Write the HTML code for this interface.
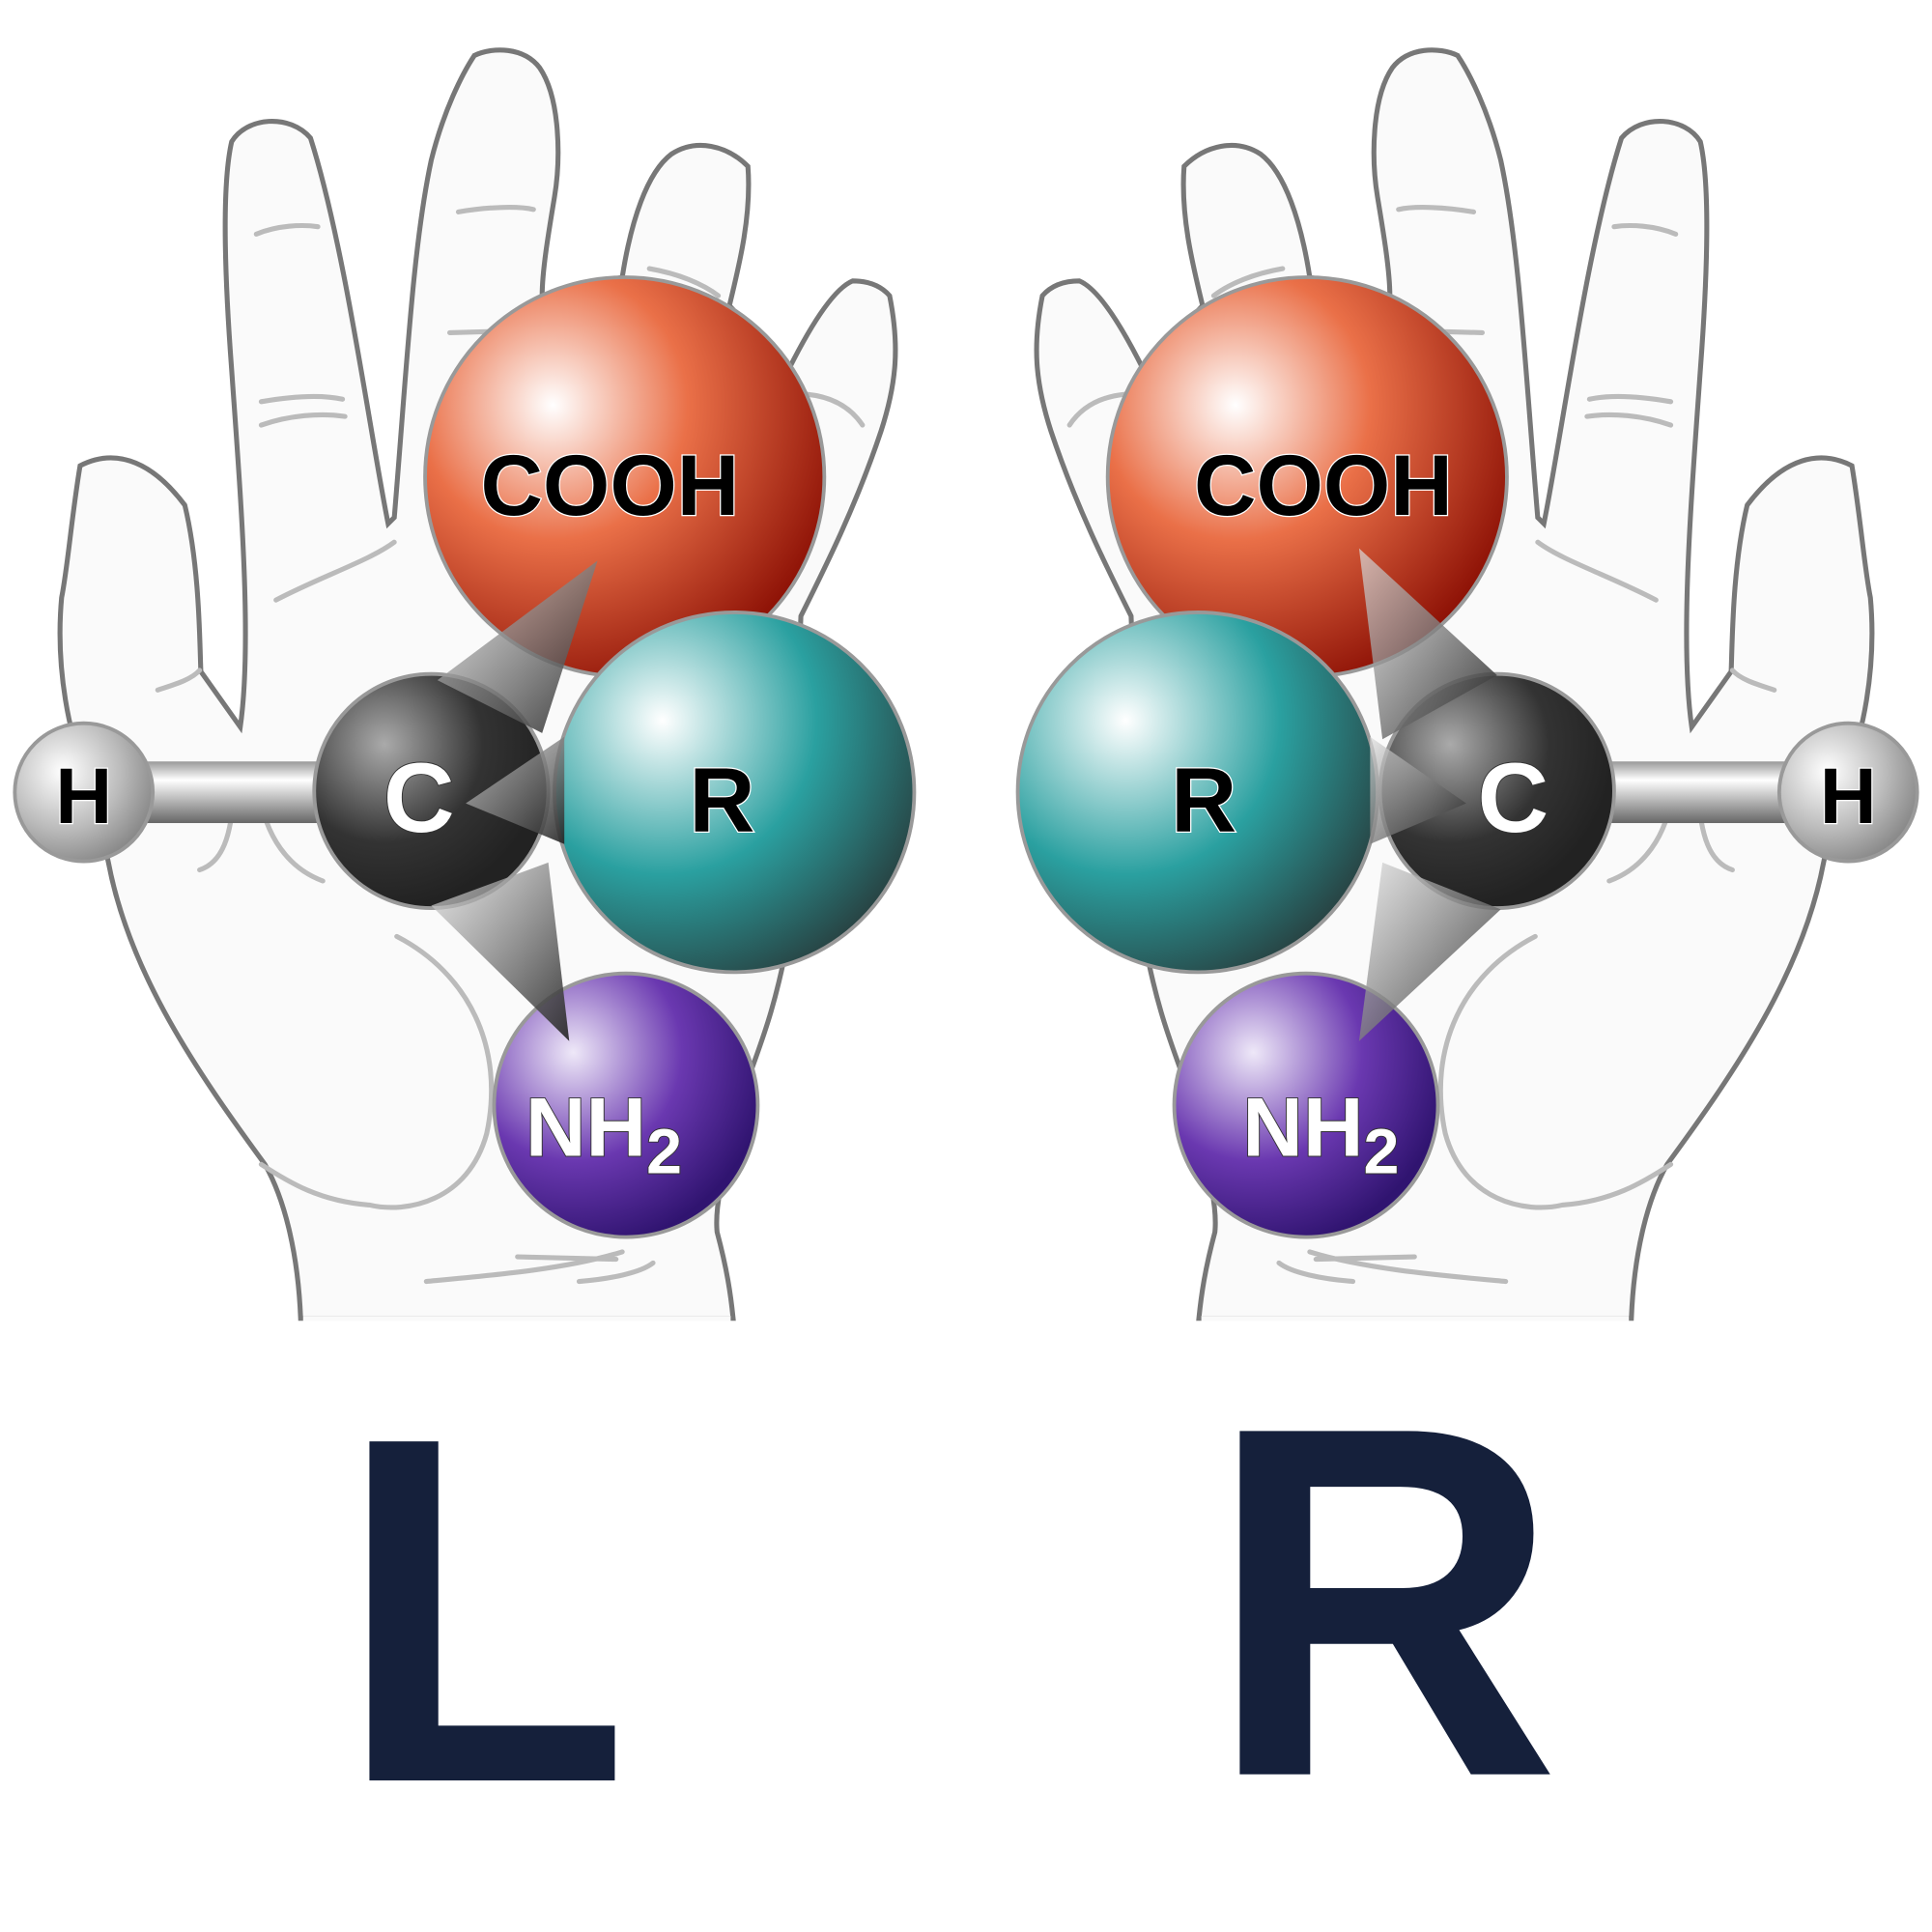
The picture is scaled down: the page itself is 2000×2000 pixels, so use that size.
<!DOCTYPE html>
<html><head><meta charset="utf-8"><style>html,body{margin:0;padding:0;background:#fff}svg{display:block}</style></head>
<body>
<svg width="2000" height="2000" viewBox="0 0 1568 1568" xmlns="http://www.w3.org/2000/svg">
<defs>
<radialGradient id="gO" cx="0.32" cy="0.32" r="0.75"><stop offset="0" stop-color="#fff"/><stop offset="0.45" stop-color="#ea7048"/><stop offset="1" stop-color="#8e1206"/></radialGradient>
<radialGradient id="gT" cx="0.3" cy="0.3" r="0.78"><stop offset="0" stop-color="#fff"/><stop offset="0.55" stop-color="#2aa0a0"/><stop offset="1" stop-color="#284444"/></radialGradient>
<radialGradient id="gP" cx="0.3" cy="0.3" r="0.75"><stop offset="0" stop-color="#eee8f8"/><stop offset="0.55" stop-color="#6a38b0"/><stop offset="1" stop-color="#301470"/></radialGradient>
<radialGradient id="gC" cx="0.3" cy="0.3" r="0.7"><stop offset="0" stop-color="#aaa"/><stop offset="0.6" stop-color="#333"/><stop offset="1" stop-color="#222"/></radialGradient>
<radialGradient id="gH" cx="0.35" cy="0.35" r="0.7"><stop offset="0" stop-color="#fff"/><stop offset="0.6" stop-color="#bbb"/><stop offset="1" stop-color="#888"/></radialGradient>
<linearGradient id="gB" x1="0" y1="0" x2="0" y2="1"><stop offset="0" stop-color="#999"/><stop offset="0.3" stop-color="#fff"/><stop offset="1" stop-color="#666"/></linearGradient>
<linearGradient id="gW" x1="0" y1="0" x2="1" y2="1"><stop offset="0" stop-color="#ddd" stop-opacity="0.7"/><stop offset="1" stop-color="#222" stop-opacity="0.9"/></linearGradient>
<g id="hand">
<path d="M244 1070 C242 1020 232 975 215 945 C160 870 105 790 88 700 L75 640 C55 600 45 540 50 485 C55 460 58 420 65 378 C90 365 120 370 150 410 C162 460 162 520 163 545 L195 590 C205 520 195 400 188 300 C182 220 180 150 188 115 C200 95 235 92 252 112 C280 200 300 350 315 425 L320 420 C330 300 335 200 350 130 C360 90 375 60 385 45 C400 38 425 38 438 55 C455 80 455 130 450 160 C445 190 440 220 440 240 L505 225 C512 180 525 140 545 125 C565 112 590 118 607 135 C610 175 600 215 592 248 L640 300 C655 270 675 235 692 228 C705 228 715 232 722 240 C730 280 728 310 715 350 C695 410 670 460 650 500 L640 760 C625 840 610 860 600 900 C585 960 580 980 582 1000 C590 1030 593 1050 595 1070 Z" fill="#fafafa" stroke="#777" stroke-width="4"/>
<rect x="246" y="1068" width="347" height="8" fill="#fafafa"/>
<rect x="230" y="1072" width="380" height="8" fill="#fff"/>
<g fill="none" stroke="#bbb" stroke-width="4" stroke-linecap="round">
<path d="M208 190 C225 183 245 182 258 184"/><path d="M372 172 C395 168 420 167 433 170"/>
<path d="M212 345 C235 337 260 335 280 338"/><path d="M212 326 C235 322 260 320 278 324"/>
<path d="M224 487 C260 468 300 455 320 440"/><path d="M365 270 L440 268"/><path d="M527 218 C550 222 570 230 583 240"/>
<path d="M655 320 C675 322 690 330 700 345"/><path d="M128 560 C140 556 155 552 162 544"/>
<path d="M162 706 C180 700 188 680 190 640"/><path d="M210 640 C215 680 235 705 262 715"/>
<path d="M322 760 C380 790 410 850 395 920 C380 975 330 985 300 978 C260 975 235 960 212 945"/>
<path d="M346 1040 C400 1035 460 1030 505 1016"/><path d="M470 1040 C495 1038 520 1033 530 1025"/><path d="M420 1020 L500 1022"/>
</g>
</g>
</defs>
<rect width="1568" height="1568" fill="#fff"/>
<use href="#hand"/>
<use href="#hand" transform="translate(1568 0) scale(-1 1)"/>

<rect x="68" y="618" width="240" height="50" fill="url(#gB)"/>
<circle cx="68" cy="643" r="56" fill="url(#gH)" stroke="#999" stroke-width="3"/>
<circle cx="507" cy="387" r="162" fill="url(#gO)" stroke="#999" stroke-width="3"/>
<circle cx="350" cy="642" r="95" fill="url(#gC)" stroke="#999" stroke-width="3"/>
<circle cx="596" cy="643" r="146" fill="url(#gT)" stroke="#999" stroke-width="3"/>
<circle cx="508" cy="897" r="107" fill="url(#gP)" stroke="#999" stroke-width="3"/>
<polygon points="485,455 355,552 440,595" fill="url(#gW)"/>
<polygon points="378,652 458,598 458,685" fill="url(#gW)"/>
<polygon points="462,845 350,735 445,700" fill="url(#gW)"/>

<rect x="1260" y="618" width="240" height="50" fill="url(#gB)"/>
<circle cx="1500" cy="643" r="56" fill="url(#gH)" stroke="#999" stroke-width="3"/>
<circle cx="1061" cy="387" r="162" fill="url(#gO)" stroke="#999" stroke-width="3"/>
<circle cx="972" cy="643" r="146" fill="url(#gT)" stroke="#999" stroke-width="3"/>
<circle cx="1215" cy="642" r="95" fill="url(#gC)" stroke="#999" stroke-width="3"/>
<circle cx="1060" cy="897" r="107" fill="url(#gP)" stroke="#999" stroke-width="3"/>
<polygon points="1103,445 1215,548 1122,600" fill="url(#gW)"/>
<polygon points="1190,652 1112,598 1112,685" fill="url(#gW)"/>
<polygon points="1103,845 1218,738 1122,700" fill="url(#gW)"/>

<g font-family="Liberation Sans, sans-serif" font-weight="bold" text-anchor="middle">
<g fill="#000" stroke="#fff" stroke-width="2" paint-order="stroke">
<text x="68" y="668" font-size="64">H</text>
<text x="1500" y="668" font-size="64">H</text>
<text x="495" y="418" font-size="70">COOH</text>
<text x="1074" y="418" font-size="70">COOH</text>
<text x="586" y="675" font-size="74">R</text>
<text x="977" y="675" font-size="74">R</text>
</g>
<g fill="#fff" stroke="#333" stroke-width="1.5" paint-order="stroke">
<text x="340" y="675" font-size="80">C</text>
<text x="1228" y="675" font-size="80">C</text>
<text x="490" y="938" font-size="68">NH<tspan font-size="52" dy="14">2</tspan></text>
<text x="1072" y="938" font-size="68">NH<tspan font-size="52" dy="14">2</tspan></text>
</g>
</g>
<g font-family="Liberation Sans, sans-serif" font-weight="bold" fill="#15203b">
<text transform="translate(302 1445) scale(0.97 1)" x="-29" y="0" font-size="400">L</text>
<text transform="translate(1010 1440) scale(0.98 1)" x="-31" y="0" font-size="405">R</text>
</g>
</svg>
</body></html>
